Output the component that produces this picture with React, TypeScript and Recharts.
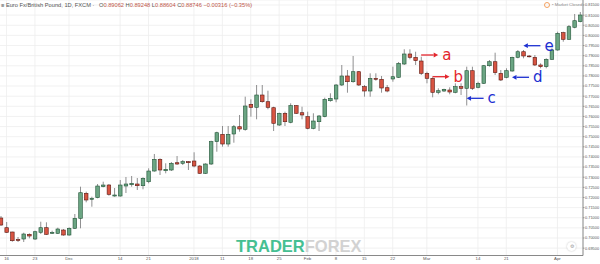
import { ComposedChart, Bar, XAxis, YAxis, CartesianGrid, ReferenceLine } from 'recharts';

// EUR/GBP daily candles (Nov 2017 – Apr 2018)
const opens = [
  0.70987, 0.70508, 0.70296, 0.69925, 0.69950, 0.70182, 0.69950, 0.70281, 0.70508, 0.70231,
  0.70231, 0.70394, 0.70147, 0.70478, 0.70972, 0.72206, 0.71910, 0.71989, 0.72532, 0.72615,
  0.72072, 0.72072, 0.72566, 0.72630, 0.72665, 0.72581, 0.72778, 0.73306, 0.73884, 0.73321,
  0.73356, 0.73716, 0.73687, 0.73766, 0.73800, 0.73553, 0.73193, 0.73652, 0.74753, 0.75118,
  0.74639, 0.75133, 0.75493, 0.75365, 0.76599, 0.76451, 0.77058, 0.76727, 0.76431, 0.75577,
  0.76155, 0.75710, 0.76530, 0.76184, 0.75987, 0.75414, 0.75740, 0.75987, 0.76776, 0.76860,
  0.77551, 0.77996, 0.77714, 0.78208, 0.77468, 0.77255, 0.77882, 0.77833, 0.77418, 0.77848,
  0.77932, 0.78588, 0.79082, 0.78919, 0.78736, 0.78129, 0.77882, 0.77191, 0.77255, 0.77305,
  0.77191, 0.77468, 0.77389, 0.78257, 0.77438, 0.77635, 0.78504, 0.78701, 0.78129, 0.77932,
  0.78242, 0.78919, 0.79195, 0.78983, 0.78919, 0.78539, 0.78455, 0.78820, 0.79279, 0.80133,
  0.79807, 0.80400, 0.80676,
];
const highs = [
  0.71085, 0.70789, 0.70310, 0.70049, 0.70261, 0.70231, 0.70360, 0.70804, 0.70774, 0.70360,
  0.70508, 0.70444, 0.70528, 0.71184, 0.72532, 0.72285, 0.72038, 0.72665, 0.72778, 0.72665,
  0.72467, 0.72862, 0.73010, 0.73060, 0.72961, 0.72996, 0.73440, 0.74146, 0.73933, 0.73687,
  0.73751, 0.74047, 0.73849, 0.73800, 0.74230, 0.73603, 0.73687, 0.74802, 0.75246, 0.75528,
  0.75528, 0.75577, 0.76071, 0.76974, 0.76846, 0.77551, 0.77551, 0.77270, 0.76480, 0.76184,
  0.76234, 0.76648, 0.76564, 0.76480, 0.76234, 0.76155, 0.76071, 0.76925, 0.77142, 0.77601,
  0.78539, 0.78292, 0.78983, 0.78242, 0.77551, 0.78129, 0.78129, 0.77996, 0.77551, 0.78455,
  0.78687, 0.79314, 0.79314, 0.79195, 0.78948, 0.78208, 0.77932, 0.77389, 0.77369, 0.77438,
  0.77635, 0.77635, 0.78455, 0.78455, 0.77714, 0.78539, 0.78785, 0.79146, 0.78292, 0.78376,
  0.78948, 0.79279, 0.79279, 0.79032, 0.79032, 0.78623, 0.78869, 0.79363, 0.80182, 0.80182,
  0.80513, 0.81056, 0.81155,
];
const lows = [
  0.70592, 0.70246, 0.69817, 0.69802, 0.69802, 0.69985, 0.69901, 0.70197, 0.70147, 0.70197,
  0.70197, 0.70113, 0.70113, 0.70444, 0.70478, 0.71762, 0.71544, 0.71959, 0.72502, 0.72087,
  0.72038, 0.72038, 0.72221, 0.72532, 0.72369, 0.72403, 0.72699, 0.73272, 0.73109, 0.73193,
  0.73306, 0.73603, 0.73603, 0.73356, 0.73489, 0.73158, 0.73158, 0.73603, 0.74259, 0.74506,
  0.74506, 0.74703, 0.75246, 0.75296, 0.75987, 0.75858, 0.76678, 0.76352, 0.75281, 0.75528,
  0.75528, 0.75661, 0.76120, 0.75858, 0.75365, 0.75365, 0.75281, 0.75957, 0.76727, 0.76698,
  0.77502, 0.77171, 0.77665, 0.77502, 0.76974, 0.76974, 0.77764, 0.77171, 0.77191, 0.77714,
  0.77897, 0.78539, 0.78820, 0.78539, 0.78045, 0.77635, 0.76944, 0.77092, 0.77206, 0.77092,
  0.77142, 0.77058, 0.76540, 0.77305, 0.77389, 0.77601, 0.78455, 0.78045, 0.77749, 0.77882,
  0.78208, 0.78869, 0.78869, 0.78909, 0.78489, 0.78376, 0.78376, 0.78785, 0.79244, 0.79689,
  0.79773, 0.80350, 0.80646,
];
const closes = [
  0.70641, 0.70281, 0.69866, 0.69876, 0.70197, 0.70098, 0.70310, 0.70508, 0.70182, 0.70281,
  0.70444, 0.70147, 0.70478, 0.70972, 0.72235, 0.71875, 0.71959, 0.72566, 0.72615, 0.72156,
  0.72122, 0.72615, 0.72665, 0.72699, 0.72581, 0.72946, 0.73306, 0.73884, 0.73356, 0.73390,
  0.73687, 0.73652, 0.73766, 0.73716, 0.73553, 0.73193, 0.73652, 0.74753, 0.75197, 0.74639,
  0.75118, 0.75493, 0.75380, 0.76515, 0.76451, 0.77058, 0.76727, 0.76451, 0.75661, 0.76155,
  0.75740, 0.76530, 0.76155, 0.76071, 0.75414, 0.75774, 0.76021, 0.76846, 0.76895, 0.77551,
  0.77996, 0.77714, 0.78208, 0.77551, 0.77255, 0.77882, 0.77833, 0.77403, 0.77255, 0.77961,
  0.78623, 0.79082, 0.78919, 0.78751, 0.78129, 0.77882, 0.77191, 0.77270, 0.77339, 0.77206,
  0.77468, 0.77389, 0.78257, 0.77389, 0.77635, 0.78504, 0.78701, 0.78159, 0.77798, 0.78257,
  0.78919, 0.79195, 0.78983, 0.78948, 0.78539, 0.78455, 0.78820, 0.79279, 0.80103, 0.79807,
  0.80429, 0.80725, 0.81007,
];

// x axis labels sit on these candle indexes
const tickIdx = [1, 6, 12, 21, 26, 34, 39, 44, 49, 54, 59, 64, 69, 75, 84, 89, 98];
const tickText = ['16', '23', 'Dec', '14', '21', '2018', '11', '18', '25', 'Feb', '8', '15', '22', 'Mar', '14', '21', 'Apr'];

const priceTicks = [
  0.695, 0.700, 0.705, 0.710, 0.715, 0.720, 0.725, 0.730, 0.735, 0.740, 0.745, 0.750, 0.755,
  0.760, 0.765, 0.770, 0.775, 0.780, 0.785, 0.790, 0.795, 0.800, 0.805, 0.810, 0.815,
];

// annotation arrows: from candle -> to candle, at price
const noteLetters = ['a', 'b', 'c', 'd', 'e'];
const noteFrom = [74, 76, 85, 93, 95];
const noteTo = [77, 79, 82, 90, 92];
const notePrice = [0.79032, 0.77961, 0.76895, 0.77932, 0.79491];

const RED_NOTE = '#e3262d';
const BLUE_NOTE = '#1c2fd1';

const UP = '#6ba583';
const DOWN = '#d75442';
const UP_BORDER = '#225437';
const DOWN_BORDER = '#5b1a13';
const WICK = '#737375';
const AXIS = '#6e6e6e';
const LABEL = '#555';
const FONT = '"Liberation Sans", Arial, sans-serif';

const candles = opens.map((o, i) => ({ t: i, o, h: highs[i], l: lows[i], c: closes[i] }));

function Candle(props: any) {
  const { x, y, width, height, payload } = props;
  const { o, h, l, c } = payload;
  const top = Math.min(y, y + height);
  const span = Math.abs(height);
  const k = h > l ? span / (h - l) : 0;
  const yOf = (v: number) => top + (h - v) * k;
  const up = c >= o;
  const cx = x + width / 2;
  const bTop = yOf(Math.max(o, c));
  const bH = Math.max(yOf(Math.min(o, c)) - bTop, 0.8);
  return (
    <g>
      <line x1={cx} x2={cx} y1={top} y2={top + span} stroke={WICK} strokeWidth={0.8} />
      <rect
        x={cx - 1.8}
        y={bTop}
        width={3.6}
        height={bH}
        fill={up ? UP : DOWN}
        stroke={up ? UP_BORDER : DOWN_BORDER}
        strokeWidth={0.6}
      />
    </g>
  );
}

function arrowShape(letter: string, color: string) {
  return (p: any) => {
    const { x1, y1, x2, y2 } = p;
    const dir = x2 > x1 ? 1 : -1;
    const head = 4.5;
    const hw = 2.4;
    return (
      <g>
        <line x1={x1} y1={y1} x2={x2 - dir * head} y2={y2} stroke={color} strokeWidth={1.3} />
        <polygon
          points={`${x2},${y2} ${x2 - dir * head},${y2 - hw} ${x2 - dir * head},${y2 + hw}`}
          fill={color}
        />
        <text
          x={Math.max(x1, x2) + 4}
          y={y1}
          fill={color}
          fontSize={15}
          fontFamily='"DejaVu Sans", sans-serif'
          dominantBaseline="central"
        >
          {letter}
        </text>
      </g>
    );
  };
}

export default function App() {
  return (
    <div
      style={{
        position: 'absolute', left: 0, top: 0, width: 600, height: 264,
        background: '#fff', fontFamily: FONT, overflow: 'hidden',
      }}
    >
      <ComposedChart
        width={600}
        height={264}
        data={candles}
        margin={{ top: 0, right: 0, bottom: 0, left: -2 }}
        barCategoryGap={0}
      >
        <CartesianGrid stroke="#ededed" strokeWidth={0.8} />
        <XAxis
          dataKey="t"
          type="category"
          ticks={tickIdx}
          interval={0}
          tickFormatter={(v: number) => tickText[tickIdx.indexOf(v)] ?? ''}
          height={8.5}
          tickLine={false}
          tickSize={1}
          tickMargin={0.5}
          axisLine={{ stroke: AXIS, strokeWidth: 0.8 }}
          tick={{ fill: LABEL, fontSize: 4.3, fontFamily: FONT }}
        />
        <YAxis
          orientation="right"
          type="number"
          domain={[0.69136, 0.81747]}
          allowDataOverflow
          ticks={priceTicks}
          interval={0}
          width={17}
          tickSize={1.5}
          tickMargin={0.5}
          tickFormatter={(v: number) => v.toFixed(5)}
          axisLine={{ stroke: AXIS, strokeWidth: 0.8 }}
          tickLine={{ stroke: AXIS, strokeWidth: 0.6 }}
          tick={{ fill: LABEL, fontSize: 3.9, fontFamily: FONT }}
        />
        <Bar
          dataKey={(d: any) => [d.l, d.h]}
          barSize={4}
          shape={<Candle />}
          isAnimationActive={false}
        />
        {noteLetters.map((letter, i) => (
          <ReferenceLine
            key={letter}
            segment={[
              { x: noteFrom[i], y: notePrice[i] },
              { x: noteTo[i], y: notePrice[i] },
            ]}
            shape={arrowShape(letter, i < 2 ? RED_NOTE : BLUE_NOTE)}
          />
        ))}
      </ComposedChart>

      {/* Header legend */}
      <div
        style={{
          position: 'absolute', left: 1, top: 2, fontSize: 5.7, color: '#555',
          whiteSpace: 'nowrap', lineHeight: '7px',
        }}
      >
        ≡ Euro Fx/British Pound, 1D, FXCM ·{' '}
        <span style={{ marginLeft: 3 }}>O</span><span style={{ color: '#c0574a' }}>0.89062</span>{' '}
        <span>H</span><span style={{ color: '#c0574a' }}>0.89248</span>{' '}
        <span>L</span><span style={{ color: '#c0574a' }}>0.88604</span>{' '}
        <span>C</span><span style={{ color: '#c0574a' }}>0.88746</span>{' '}
        <span style={{ color: '#c0574a' }}>−0.00316 (−0.35%)</span>
      </div>

      {/* Market status */}
      <div
        style={{
          position: 'absolute', left: 544, top: 2, fontSize: 4.3, color: '#888',
          whiteSpace: 'nowrap', lineHeight: '6px', display: 'flex', alignItems: 'center',
        }}
      >
        <span
          style={{
            display: 'inline-block', width: 4, height: 4, borderRadius: 3,
            border: '1px solid #f4a261', marginRight: 2,
          }}
        />
        • Market Closed
      </div>

      {/* Watermark */}
      <div
        style={{
          position: 'absolute', left: 236, top: 237, fontSize: 16.5, fontWeight: 700,
          fontFamily: FONT, lineHeight: '18px', whiteSpace: 'nowrap',
        }}
      >
        <span style={{ color: '#46bf92' }}>TRADER</span>
        <span style={{ color: '#d2d2d2' }}>FOREX</span>
      </div>

      {/* Scale button */}
      <div
        style={{
          position: 'absolute', left: 567, top: 242, width: 9, height: 9, borderRadius: 5,
          background: '#fff', boxShadow: '0 0 2px rgba(0,0,0,0.25)', fontSize: 5,
          color: '#999', textAlign: 'center', lineHeight: '9px',
        }}
      >
        ⚙
      </div>
    </div>
  );
}
